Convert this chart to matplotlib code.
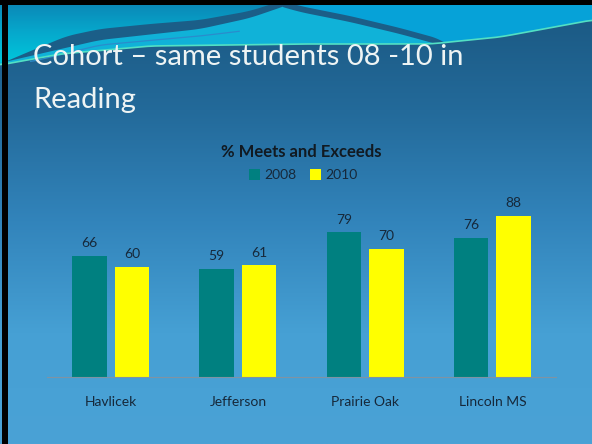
import numpy as np
import matplotlib.pyplot as plt
from matplotlib.colors import LinearSegmentedColormap
from matplotlib.patches import Polygon

plt.rcParams['font.family'] = ['Lato', 'DejaVu Sans']

schools = ['Havlicek', 'Jefferson', 'Prairie Oak', 'Lincoln MS']
pct_2008 = [66, 59, 79, 76]
pct_2010 = [60, 61, 70, 88]

W, H = 592, 444
fig = plt.figure(figsize=(W / 100, H / 100), dpi=100)

# slide background: vertical blue gradient
bg = fig.add_axes([0, 0, 1, 1])
bg_cmap = LinearSegmentedColormap.from_list('slide', ['#1a5780', '#236a9a', '#3284bb', '#46a0d4', '#4aa2d6'])
grad = np.linspace(0, 1, 256).reshape(-1, 1)
bg.imshow(grad, cmap=bg_cmap, aspect='auto', extent=[0, W, H, 0], zorder=0)

def smooth_curve(px, py, xs, k=10):
    ys = np.interp(xs, px, py)
    pad = np.pad(ys, k, mode='edge')
    return np.convolve(pad, np.ones(2 * k + 1) / (2 * k + 1), mode='same')[k:-k]

# wave decoration at the top of the slide
xs = np.linspace(0, W, 600)
lb = smooth_curve([0, 60, 150, 300, 430, 500, 592], [65, 54, 46, 44, 44, 37, 20], xs)
s_top = smooth_curve([265, 300, 350, 400, 440, 470, 592], [-4, 6, 16, 28, 39, 60, 80], xs)
left_b = smooth_curve([0, 100, 200, 250, 285, 300], [63, 40, 29, 18, 6, 0], xs)
bu = np.where(xs < 283, left_b, s_top + 6)
bu = np.minimum(bu, lb)
c_low = np.where(xs >= 270, np.minimum(s_top, lb), 0)

bg.fill_between(xs, 0, lb, color='#1b5e88', lw=0, zorder=1)
bg.fill_between(xs, bu, lb, color='#10b2d8', lw=0, zorder=1)
bg.fill_between(xs, 0, np.maximum(c_low, 0), color='#06a2d8', lw=0, zorder=1)

# top-left cyan area with its own gradient
l1 = smooth_curve([0, 33, 67, 100, 150, 200, 250, 275, 295], [64, 50, 36, 29, 24, 20, 11, 3, -3], xs)
mask = xs <= 295
poly = Polygon(np.column_stack([np.r_[xs[mask], xs[mask][::-1]],
                                np.r_[np.zeros(mask.sum()), l1[mask][::-1]]]),
               closed=True, facecolor='none', edgecolor='none')
bg.add_patch(poly)
a_cmap = LinearSegmentedColormap.from_list('wave', ['#0b84b4', '#06a8cc', '#00c8dc'])
img = bg.imshow(np.linspace(0, 1, 64).reshape(-1, 1), cmap=a_cmap, aspect='auto',
                extent=[0, 300, 64, 0], zorder=2)
img.set_clip_path(poly)

thin = smooth_curve([30, 100, 200, 250], [62, 45, 36, 30], xs)
tm = (xs >= 30) & (xs <= 240)
bg.plot(xs[tm], thin[tm], color='#2a8ccc', lw=0.9, zorder=3)
bg.plot(xs, lb, color='#52e0c4', lw=1.2, zorder=3)

# black frame edges
bg.fill_between([0, W], 0, 5, color='black', lw=0, zorder=4)
bg.fill_between([2, 8], 0, H, color='black', lw=0, zorder=4)
bg.set_xlim(0, W)
bg.set_ylim(H, 0)
bg.axis('off')

bg.text(33, 65, 'Cohort \u2013 same students 08 -10 in', fontsize=21, color='#eef4f4', va='baseline', zorder=5)
bg.text(33, 108, 'Reading', fontsize=21, color='#eef4f4', va='baseline', zorder=5)

# chart area
ax = fig.add_axes([47 / W, 67 / H, 509 / W, 183 / H])
ax.patch.set_alpha(0)
x = np.arange(len(schools))
off, bw = 0.167, 0.27
ax.bar(x - off, pct_2008, bw, color='#008080', label='2008')
ax.bar(x + off, pct_2010, bw, color='#ffff00', label='2010')

for xi, v in zip(x, pct_2008):
    ax.text(xi - off, v + 7, str(v), ha='center', va='center', fontsize=10, color='#16283a')
for xi, v in zip(x, pct_2010):
    ax.text(xi + off, v + 7, str(v), ha='center', va='center', fontsize=10, color='#16283a')

ax.set_xlim(-0.5, len(schools) - 0.5)
ax.set_ylim(0, 100)
ax.set_xticks(x)
ax.set_xticklabels(schools, fontsize=10, color='#16283a')
ax.tick_params(axis='x', length=0, pad=14)
ax.set_yticks([])
for s in ['top', 'right', 'left']:
    ax.spines[s].set_visible(False)
ax.spines['bottom'].set_color('#7f93a3')
ax.spines['bottom'].set_linewidth(0.8)

fig.text(301 / W, 1 - 152 / H, '% Meets and Exceeds', ha='center', va='center',
         fontsize=12, fontweight='bold', color='#111a22')
fig.legend(loc='center', bbox_to_anchor=(303 / W, 1 - 175 / H), ncol=2, frameon=False,
           fontsize=10, handlelength=0.8, handleheight=0.8, handletextpad=0.3,
           columnspacing=1.0, labelcolor='#16283a')

fig.savefig('out.png', dpi=100)
